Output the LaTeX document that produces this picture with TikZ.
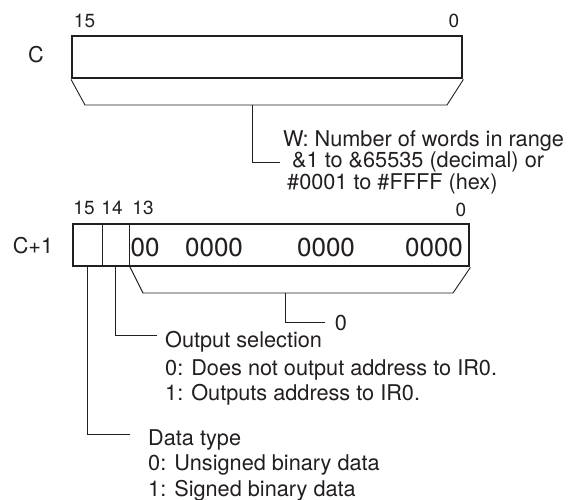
\documentclass[tikz,border=0pt]{standalone}
\usepackage{fontspec}
\setmainfont{TeX Gyre Heros}
\usepackage{xcolor}
\usetikzlibrary{positioning}
\definecolor{ink}{HTML}{231F20}

\tikzset{
  wordbox/.style={draw=ink, line width=2.4pt, inner sep=0pt, minimum height=42pt, anchor=north west},
  lead/.style={draw=ink, line width=0.9pt},
  txt/.style={text=ink, font=\fontsize{21.7}{22}\selectfont, inner sep=0pt, anchor=base west},
  bitno/.style={text=ink, font=\fontsize{19}{19}\selectfont, inner sep=0pt},
  digits/.style={text=ink, font=\fontsize{26}{26}\selectfont, inner sep=0pt}
}

\begin{document}
\begin{tikzpicture}[x=1pt, y=-1pt]
  \useasboundingbox (0,0) rectangle (574,500);

  % first word
  \node[wordbox, minimum width=390pt] (wC) at (71,35) {};
  \node[text=ink, font=\fontsize{21.7}{22}\selectfont, inner sep=0pt] (nameC) at (36,55) {C};
  \node[bitno] (c15) at (84.5,21) {15};
  \node[bitno] (c0) at (454,21) {0};
  \coordinate (bCl) at (85,105);
  \coordinate (bCr) at (447,105);
  \coordinate (bCm) at (252,105);
  \coordinate (wTip) at (280,162);
  \draw[lead] (wC.south west) -- (bCl) -- (bCr) -- (wC.south east);
  \draw[lead] (bCm) |- (wTip);
  \node[txt] (noteW) at (283,146.5) {W: Number of words in range};
  \node[txt] (noteW2) at (292,168) {\&1 to \&65535 (decimal) or};
  \node[txt] (noteW3) at (287,189.5) {\#0001 to \#FFFF (hex)};

  % second word
  \node[wordbox, minimum width=396pt] (wC1) at (72,223) {};
  \node[text=ink, font=\fontsize{21.7}{22}\selectfont, inner sep=0pt] (nameC1) at (33,246) {C+1};
  \node[bitno] (b15) at (84,208) {15};
  \node[bitno] (b14) at (112,208) {14};
  \node[bitno] (b13) at (143,208) {13};
  \node[bitno] (b0) at (461,210) {0};
  \coordinate (s14t) at (102,223);
  \coordinate (s14b) at (102,265);
  \coordinate (s13t) at (129,223);
  \coordinate (s13b) at (129,265);
  \draw[lead] (s14t) -- (s14b);
  \draw[lead] (s13t) -- (s13b);
  \node[digits] (d13) at (145,247) {00};
  \node[digits] (d11) at (214,247) {0000};
  \node[digits] (d7) at (326,247) {0000};
  \node[digits] (d3) at (434,247) {0000};

  \coordinate (bDl) at (143,293);
  \coordinate (bDr) at (453,293);
  \coordinate (bDm) at (285,293);
  \coordinate (zTip) at (325,322);
  \draw[lead] (s13b) -- (bDl) -- (bDr) -- (wC1.south east);
  \draw[lead] (bDm) |- (zTip);
  \node[bitno, font=\fontsize{21.7}{22}\selectfont] (zero) at (341,323) {0};

  % bit 14
  \coordinate (t14) at (115,265);
  \coordinate (o14) at (157,335);
  \draw[lead] (t14) |- (o14);
  \node[txt] (sel) at (165,348) {Output selection};
  \node[txt] (sel0) at (165,376) {0: Does not output address to IR0.};
  \node[txt] (sel1) at (165,400) {1: Outputs address to IR0.};

  % bit 15
  \coordinate (t15) at (87,265);
  \coordinate (o15) at (130,434);
  \draw[lead] (t15) |- (o15);
  \node[txt] (typ) at (148,445) {Data type};
  \node[txt] (typ0) at (148,471) {0: Unsigned binary data};
  \node[txt] (typ1) at (148,496) {1: Signed binary data};
\end{tikzpicture}
\end{document}
